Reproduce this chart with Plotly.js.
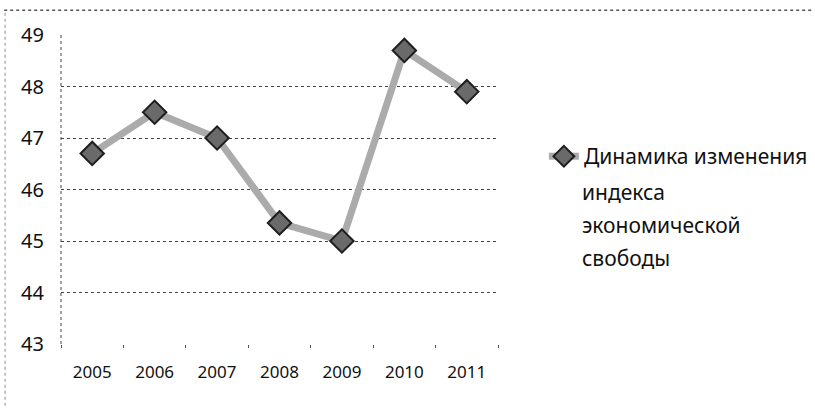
<!DOCTYPE html>
<html>
<head>
<meta charset="utf-8">
<script src="https://cdn.plot.ly/plotly-3.0.1.min.js"></script>
<style>html,body{margin:0;padding:0;background:#fff;}#chart{width:815px;height:411px;}</style>
</head>
<body>
<div id="chart"></div>
<script>
const years = ['2005', '2006', '2007', '2008', '2009', '2010', '2011'];
const freedomIndex = [46.7, 47.5, 47.0, 45.35, 45.0, 48.7, 47.9];
const seriesNameLines = ['Динамика изменения', 'индекса', 'экономической', 'свободы'];
const yTicks = [43, 44, 45, 46, 47, 48, 49];

const FONT = 'Noto Sans, Open Sans, sans-serif';

const trace = {
  type: 'scatter',
  mode: 'lines+markers',
  x: years,
  y: freedomIndex,
  name: seriesNameLines[0],
  line: {color: '#ababab', width: 7},
  marker: {symbol: 'diamond', size: 18, color: '#6a6a6a', line: {color: '#1e1e1e', width: 2}}
};

const annotations = seriesNameLines.slice(1).map((t, i) => ({
  xref: 'paper', yref: 'paper',
  x: 1.188, xanchor: 'left',
  y: 0.492 - i * 0.107, yanchor: 'middle',
  text: t, showarrow: false,
  font: {family: FONT, size: 21, color: '#111'}
}));

const layout = {
  width: 815,
  height: 411,
  margin: {l: 61, r: 317, t: 35, b: 67, autoexpand: false},
  paper_bgcolor: '#ffffff',
  plot_bgcolor: '#ffffff',
  showlegend: true,
  legend: {
    x: 1.105, y: 0.673, xanchor: 'left', yanchor: 'top',
    valign: 'top',
    font: {family: FONT, size: 21, color: '#111'},
    itemwidth: 30,
    tracegroupgap: 0,
    bgcolor: 'rgba(0,0,0,0)'
  },
  annotations: annotations,
  xaxis: {
    type: 'category',
    range: [-0.5, 6.5],
    showgrid: false,
    zeroline: false,
    showline: false,
    ticks: 'outside',
    tickson: 'boundaries',
    ticklen: 3,
    tickcolor: '#555',
    tickfont: {family: FONT, size: 17, color: '#111'},
    ticklabelstandoff: 16
  },
  yaxis: {
    range: [43, 49],
    tickvals: yTicks,
    showgrid: true,
    gridcolor: '#444',
    griddash: 'dot',
    gridwidth: 1,
    zeroline: false,
    showline: false,
    ticks: '',
    tickfont: {family: FONT, size: 20, color: '#111'},
    ticklabelstandoff: 16
  },
  shapes: [
    {type: 'line', xref: 'paper', yref: 'paper', x0: 0, x1: 0, y0: 0, y1: 1, line: {color: '#444', width: 1, dash: 'dot'}},
    {type: 'line', xref: 'paper', yref: 'paper', x0: -0.13, x1: 1.72, y0: 1.08, y1: 1.08, line: {color: '#555', width: 1.5, dash: 'dot'}},
    {type: 'line', xref: 'paper', yref: 'paper', x0: -0.128, x1: -0.128, y0: -0.2, y1: 1.08, line: {color: '#888', width: 1, dash: 'dot'}}
  ]
};

Plotly.newPlot('chart', [trace], layout, {displayModeBar: false, staticPlot: true});
</script>
</body>
</html>
